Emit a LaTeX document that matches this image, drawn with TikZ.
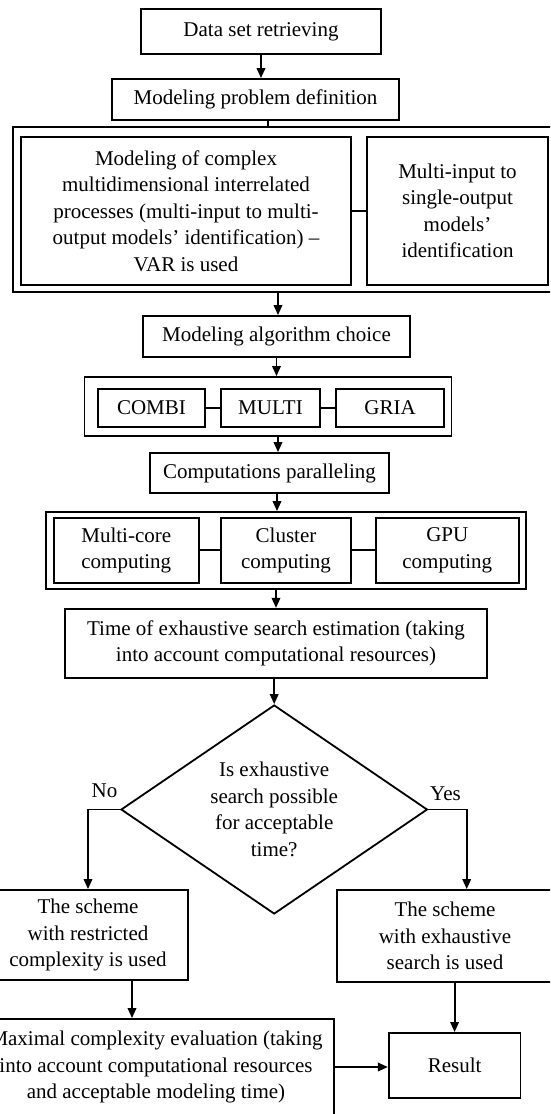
\documentclass[tikz,border=0pt]{standalone}
\usepackage{fontspec}
\setmainfont{Liberation Serif}
\usetikzlibrary{shapes.geometric,arrows.meta,calc}
\begin{document}
\begin{tikzpicture}[x=1pt,y=-1pt,
  font=\fontsize{21}{26.5}\selectfont,
  box/.style={draw,line width=1.8pt,align=center,inner sep=0pt,minimum width=#1},
  box/.default=10pt,
  link/.style={line width=1.8pt},
  arr/.style={line width=1.8pt,-{Triangle[length=10pt,width=8.5pt]}},
  lab/.style={inner sep=0pt,anchor=base}
]
\useasboundingbox (0,0) rectangle (550,1114);
\clip (0,0) rectangle (550,1114);

\node[box=240pt,minimum height=45pt] (ds) at (261,31.5) {Data set retrieving};
\node[box=287pt,minimum height=41pt] (mpd) at (255.5,99.5) {Modeling problem definition};

\node[box=547pt,minimum height=165pt] (o1) at (286.5,209.5) {};
\node[box=330pt,minimum height=148pt] (pl) at (186,211) {Modeling of complex\\ multidimensional interrelated\\ processes (multi-input to multi-\\ output models’ identification) –\\ VAR is used};
\node[box=181pt,minimum height=148pt] (pr) at (457.5,211) {Multi-input to\\ single-output\\ models’\\ identification};

\node[box=267pt,minimum height=41pt] (mac) at (276.5,336.5) {Modeling algorithm choice};

\node[box=367pt,minimum height=59pt] (o2) at (268,406.5) {};
\node[box=107pt,minimum height=38pt] (combi) at (151.5,408) {COMBI};
\node[box=99pt,minimum height=38pt] (multi) at (270.5,408) {MULTI};
\node[box=108pt,minimum height=38pt] (gria) at (390,408) {GRIA};

\node[box=239pt,minimum height=40pt] (cp) at (269.5,473) {Computations paralleling};

\node[box=480pt,minimum height=77pt] (o3) at (286,550.5) {};
\node[box=145pt,minimum height=65pt] (mc) at (126.3,550.3) {Multi-core\\ computing};
\node[box=130pt,minimum height=65pt] (cl) at (286,550.3) {Cluster\\ computing};
\node[box=142.6pt,minimum height=65pt] (gpu) at (447.3,550.3) {GPU\\ computing};

\node[box=422pt,minimum height=69pt] (time) at (276,643.3) {Time of exhaustive search estimation (taking\\ into account computational resources)};

\node[draw,line width=1.8pt,shape=diamond,shape aspect=1.466,inner sep=0pt,
      minimum width=306.4pt,minimum height=209pt,align=center] (dia) at (274.2,809.5)
      {Is exhaustive\\ search possible\\ for acceptable\\ time?};
\node[lab] (no) at (104.5,797.7) {No};
\node[lab] (yes) at (445.5,800) {Yes};

\node[box=200pt,minimum height=90pt] (rs) at (88,935) {The scheme\\ with restricted\\ complexity is used};
\node[box=216pt,minimum height=92pt] (es) at (445,936) {The scheme\\ with exhaustive\\ search is used};

\node[box=356pt,minimum height=96pt] (mx) at (156,1067) {Maximal complexity evaluation (taking\\ into account computational resources\\ and acceptable modeling time)};
\node[box=131.6pt,minimum height=64.7pt] (res) at (454.6,1065.3) {Result};

% connectors
\draw[arr] (ds.south) -- ($(mpd.north)+(5.5,0)$);
\draw[link] ($(mpd.south)+(12.5,0)$) -- ($(o1.north)+(-18.5,0)$);
\draw[link] (pl.east) -- (pr.west);
\draw[arr] ($(o1.south)+(-8.5,0)$) -- ($(mac.north)+(1.5,0)$);
\draw[arr] (mac.south) -- ($(o2.north)+(8.5,0)$);
\draw[link] (combi.east) -- (multi.west);
\draw[link] (multi.east) -- (gria.west);
\draw[arr] ($(o2.south)+(10,0)$) -- ($(cp.north)+(8.5,0)$);
\draw[arr] ($(cp.south)+(7.5,0)$) -- ($(o3.north)+(-9,0)$);
\draw[link] (mc.east) -- (cl.west);
\draw[link] (cl.east) -- (gpu.west);
\draw[arr] ($(o3.south)+(-10,0)$) -- (time.south |- o3.south) -- (time.north);
\draw[arr] ($(time.south)+(-1.8,0)$) -- (dia.north);
\draw[arr] (dia.west) -| (rs.north);
\draw[arr] (dia.east) -| ($(es.north)+(21.7,0)$);
\draw[arr] ($(rs.south)+(44,0)$) -- ($(mx.north)+(-24,0)$);
\draw[arr] ($(es.south)+(9.6,0)$) -- (res.north);
\draw[arr] (mx.east) -- (mx.east -| res.west);
\end{tikzpicture}
\end{document}
